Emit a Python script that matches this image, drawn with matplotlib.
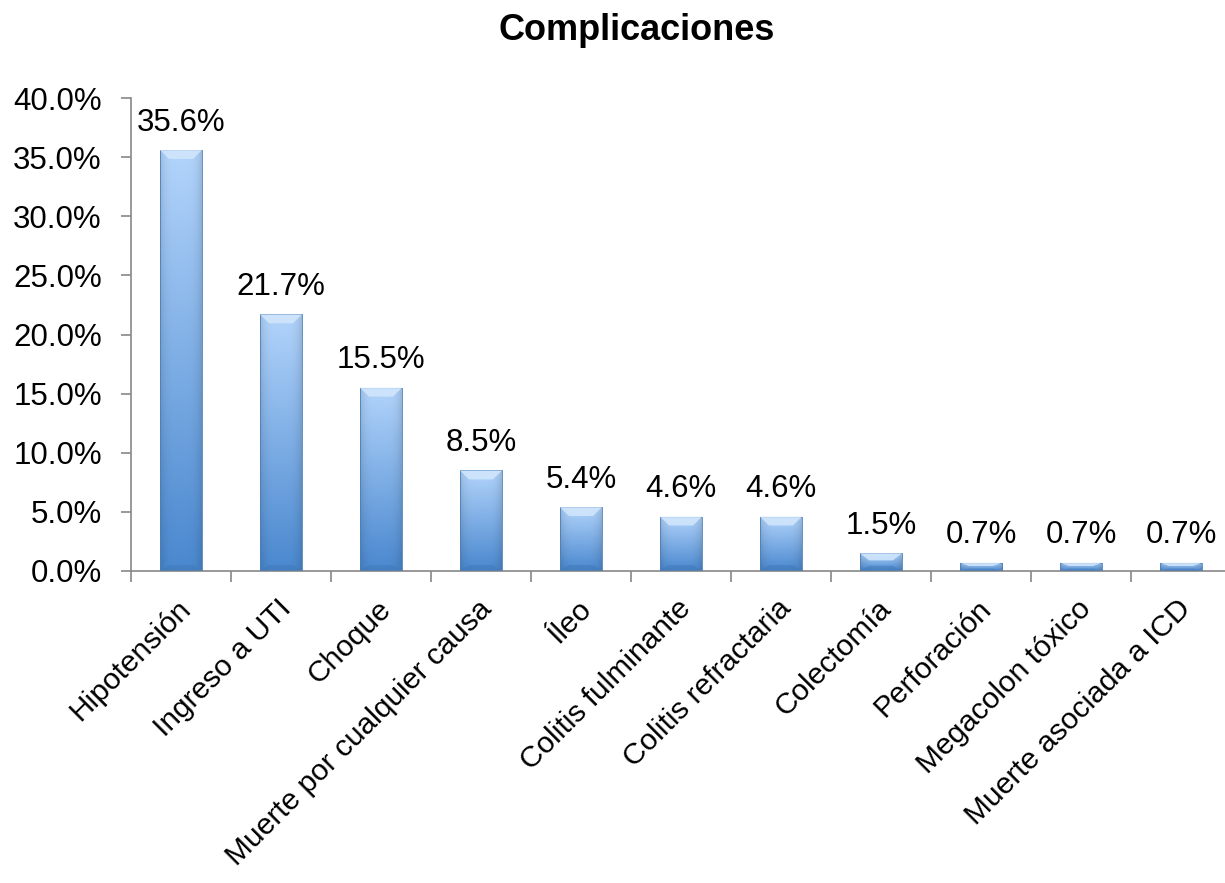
import numpy as np
import matplotlib.pyplot as plt
from matplotlib.colors import to_rgb
from matplotlib.patches import Polygon
from matplotlib.ticker import FuncFormatter, MultipleLocator, FixedLocator
import matplotlib.transforms as mtransforms

plt.rcParams['font.family'] = ['Liberation Sans', 'DejaVu Sans']

# Complicaciones registradas (% de pacientes)
categorias = ['Hipotensión', 'Ingreso a UTI', 'Choque', 'Muerte por cualquier causa',
              'Íleo', 'Colitis fulminante', 'Colitis refractaria', 'Colectomía',
              'Perforación', 'Megacolon tóxico', 'Muerte asociada a ICD']
porcentajes = [35.6, 21.7, 15.5, 8.5, 5.4, 4.6, 4.6, 1.5, 0.7, 0.7, 0.7]

fig = plt.figure(figsize=(12.25, 8.83), dpi=100)
ax = fig.add_axes([131 / 1225, 312 / 883, 1100 / 1225, 473 / 883])

x = np.arange(len(categorias))
ancho = 0.42
barras = ax.bar(x, porcentajes, ancho, facecolor='none', edgecolor='#4a7fb8',
                linewidth=0.6, zorder=3)

# degradado azul: claro arriba, oscuro abajo, bordes laterales algo más oscuros
top = np.array(to_rgb('#b2d4fb'))
bot = np.array(to_rgb('#4a88cf'))
ny, nx = 100, 40
t = np.linspace(0, 1, ny)[:, None, None]
s = np.linspace(-1, 1, nx)[None, :, None]
grad = top * (1 - t) + bot * t
grad = grad * (1 - 0.12 * s ** 4)
grad = np.clip(grad, 0, 1)

for b, v in zip(barras, porcentajes):
    x0, w = b.get_x(), b.get_width()
    im = ax.imshow(grad, extent=[x0, x0 + w, 0, v], aspect='auto',
                   origin='upper', zorder=2, interpolation='bilinear')
    im.set_clip_path(b)
    # bisel superior
    bh = min(0.75, v * 0.4)
    bw = 0.09
    bisel = Polygon([[x0, v], [x0 + w, v], [x0 + w - bw, v - bh], [x0 + bw, v - bh]],
                    closed=True, facecolor='#d3e7fd', edgecolor='none', alpha=0.85, zorder=3)
    ax.add_patch(bisel)
    bisel_inf = Polygon([[x0, 0], [x0 + w, 0], [x0 + w - bw, min(0.5, v * 0.3)],
                         [x0 + bw, min(0.5, v * 0.3)]],
                        closed=True, facecolor='#3f78b8', edgecolor='none', alpha=0.5, zorder=3)
    ax.add_patch(bisel_inf)
    ax.annotate(f'{v:.1f}%', (x0 + w / 2, v), xytext=(0, 9), textcoords='offset points',
                ha='center', va='bottom', fontsize=22.5, color='black', zorder=4)

ax.set_xlim(-0.5, len(categorias) - 0.5)
ax.set_ylim(0, 40)
ax.yaxis.set_major_locator(MultipleLocator(5))
ax.yaxis.set_major_formatter(FuncFormatter(lambda y, _: f'{y:.1f}%'))

ax.set_xticks(x)
ax.set_xticklabels(categorias, rotation=45, ha='right', va='top',
                   rotation_mode='anchor', fontsize=21.5)
ax.xaxis.set_minor_locator(FixedLocator(np.arange(-0.5, len(categorias), 1)))
ax.tick_params(axis='x', which='major', length=0, pad=17)
ax.tick_params(axis='x', which='minor', length=8, color='#888888', width=1.2)
ax.tick_params(axis='y', length=7, color='#888888', width=1.2, labelsize=22.5, pad=14)
offset = mtransforms.ScaledTranslation(-4 / 100, 0, fig.dpi_scale_trans)
for lbl in ax.get_xticklabels():
    lbl.set_transform(lbl.get_transform() + offset)

for sp in ['top', 'right']:
    ax.spines[sp].set_visible(False)
for sp in ['left', 'bottom']:
    ax.spines[sp].set_color('#888888')
    ax.spines[sp].set_linewidth(1.2)

fig.text(637 / 1225, 1 - 30 / 883, 'Complicaciones', ha='center', va='center',
         fontsize=26, fontweight='bold')

fig.savefig('out.png', dpi=100)
